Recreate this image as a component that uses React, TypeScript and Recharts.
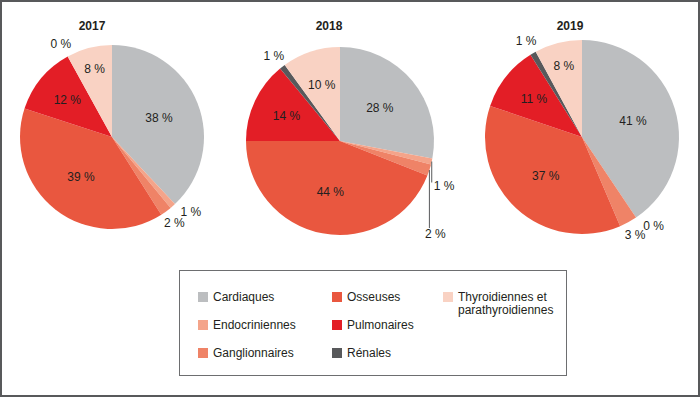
import React from 'react';
import { PieChart, Pie, Cell, Legend } from 'recharts';

const categories = [
  'Cardiaques',
  'Endocriniennes',
  'Ganglionnaires',
  'Osseuses',
  'Pulmonaires',
  'Rénales',
  'Thyroidiennes et parathyroidiennes',
];
const values2017 = [38, 1, 2, 39, 12, 0, 8];
const values2018 = [28, 1, 2, 44, 14, 1, 10];
const values2019 = [41, 0, 3, 37, 11, 1, 8];

const colors = ['#bcbec0', '#f4a48a', '#ef8367', '#e9573f', '#e31e26', '#58595b', '#f9d2c3'];
const FONT = '"Liberation Sans", Arial, Helvetica, sans-serif';
const TEXT = '#231f20';
const RAD = Math.PI / 180;

const pies = [
  { year: '2017', values: values2017, cx: 112, cy: 137, r: 92, titleX: 92, drop: false },
  { year: '2018', values: values2018, cx: 340, cy: 141, r: 94, titleX: 329, drop: true },
  { year: '2019', values: values2019, cx: 582, cy: 137, r: 97, titleX: 570, drop: false },
];

const isSmall = (v: number) => v < 5;

const makeLabel = (values: number[], drop: boolean) => (props: any) => {
  const { cx, cy, midAngle, outerRadius, index } = props;
  const v = values[index];
  let a = -midAngle * RAD;
  const txt = `${v} %`;
  const common = { fontSize: 12, fontFamily: FONT, fill: TEXT };

  if (!isSmall(v)) {
    // big slices: label inside, further out for thinner slices
    const f = v >= 20 ? 0.55 : v >= 10 ? 0.63 : 0.76;
    return (
      <text x={cx + outerRadius * f * Math.cos(a)} y={cy + outerRadius * f * Math.sin(a)}
        textAnchor="middle" dominantBaseline="central" {...common}>{txt}</text>
    );
  }

  const ex = cx + outerRadius * Math.cos(a);
  const ey = cy + outerRadius * Math.sin(a);
  if (drop && ex > cx) {
    // leader line straight down
    const k = values.slice(0, index).filter(isSmall).length;
    const len = 21 + 37 * k;
    return (
      <g>
        <line x1={ex} y1={ey} x2={ex} y2={ey + len} stroke="#58595b" strokeWidth={1} />
        {k === 0 ? (
          <text x={ex + 2} y={ey + len + 3} textAnchor="start" dominantBaseline="central" {...common}>{txt}</text>
        ) : (
          <text x={ex + 6} y={ey + len + 6} textAnchor="middle" dominantBaseline="central" {...common}>{txt}</text>
        )}
      </g>
    );
  }

  let rr = outerRadius + 14;
  const next = values[index + 1];
  if (next !== undefined && isSmall(next)) {
    a -= 5 * RAD;
    rr += 3;
  }
  return (
    <text x={cx + rr * Math.cos(a)} y={cy + rr * Math.sin(a)}
      textAnchor="middle" dominantBaseline="central" {...common}>{txt}</text>
  );
};

const renderLegend = () => (
  <div
    style={{
      boxSizing: 'border-box',
      width: 388,
      height: 106,
      border: '1px solid #6d6e70',
      background: '#fff',
      paddingTop: 12,
      paddingLeft: 18,
      display: 'grid',
      gridTemplateColumns: '134px 111px 120px',
      gridTemplateRows: 'repeat(3, 28px)',
      gridAutoFlow: 'column',
      fontFamily: FONT,
      fontSize: 12,
      color: TEXT,
    }}
  >
    {categories.map((c, i) => (
      <div key={c} style={{ display: 'flex', alignItems: i === 6 ? 'flex-start' : 'center', paddingTop: i === 6 ? 8 : 0 }}>
        <span style={{ width: 10, height: 10, background: colors[i], marginRight: 5, marginTop: i === 6 ? 1 : 0, flex: 'none' }} />
        <span style={{ lineHeight: i === 6 ? '13px' : 'normal' }}>
          {i === 6 ? (<>Thyroidiennes et<br />parathyroidiennes</>) : c}
        </span>
      </div>
    ))}
  </div>
);

export default function App() {
  return (
    <div style={{ position: 'absolute', left: 0, top: 0, width: 700, height: 397, background: '#fff', fontFamily: FONT }}>
      <PieChart width={700} height={397} margin={{ top: 0, right: 0, bottom: 0, left: 0 }}>
        {pies.map((p) => (
          <Pie
            key={p.year}
            data={categories.map((name, i) => ({ name, value: p.values[i] }))}
            dataKey="value"
            nameKey="name"
            cx={p.cx}
            cy={p.cy}
            outerRadius={p.r}
            startAngle={90}
            endAngle={-270}
            stroke="none"
            label={makeLabel(p.values, p.drop)}
            labelLine={false}
            isAnimationActive={false}
          >
            {categories.map((c, i) => (
              <Cell key={c} fill={colors[i]} />
            ))}
          </Pie>
        ))}
        <Legend
          verticalAlign="bottom"
          content={renderLegend}
          wrapperStyle={{ left: 179, top: 270, bottom: 'auto', width: 388, height: 106 }}
        />
      </PieChart>
      {pies.map((p) => (
        <div
          key={p.year}
          style={{
            position: 'absolute',
            left: p.titleX - 30,
            top: 19,
            width: 60,
            textAlign: 'center',
            fontWeight: 'bold',
            fontSize: 12,
            color: TEXT,
          }}
        >
          {p.year}
        </div>
      ))}
      <div style={{ position: 'absolute', inset: 0, border: '2px solid #58595b', boxSizing: 'border-box', pointerEvents: 'none' }} />
    </div>
  );
}
